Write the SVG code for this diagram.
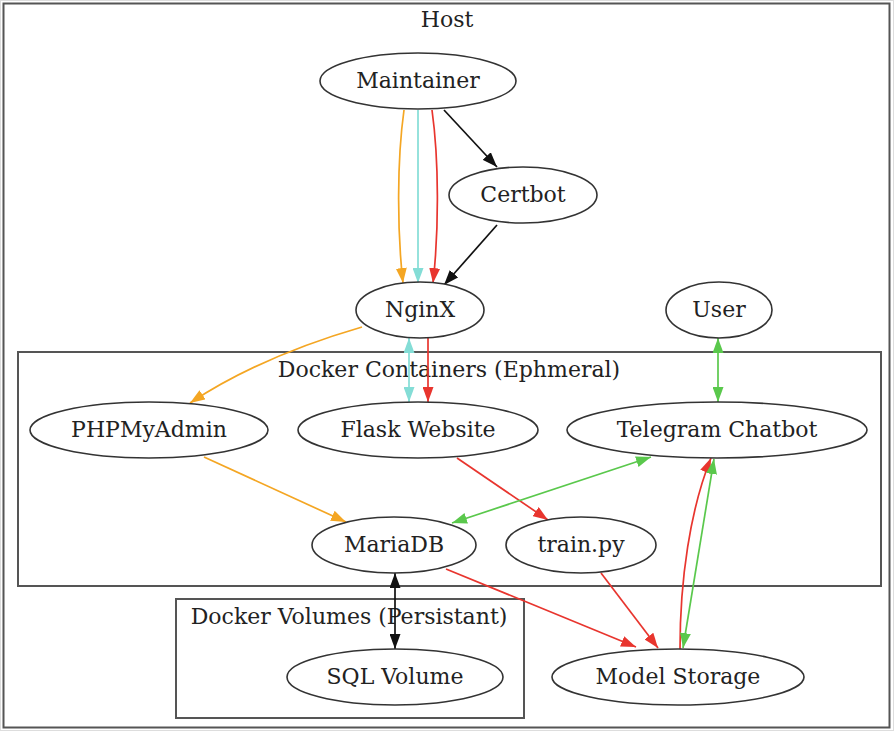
<svg xmlns="http://www.w3.org/2000/svg" width="894" height="731" viewBox="0 0 894 731">
<style>
text{font-family:"DejaVu Serif","Liberation Serif",serif;font-size:22px;fill:#222;text-anchor:middle}
.n{fill:#fff;stroke:#333;stroke-width:1.6}
.c{fill:none;stroke:#555;stroke-width:2}
.e{fill:none;stroke-width:1.7}
.k{stroke:#111}.o{stroke:#f4a623}.cy{stroke:#84ddd6}.r{stroke:#e8352e}.g{stroke:#5ac84c}
</style>
<defs>
<marker id="ak" viewBox="0 0 15 11" refX="15" refY="5.5" markerWidth="15" markerHeight="11" markerUnits="userSpaceOnUse" orient="auto-start-reverse"><path d="M0,0L15,5.5L0,11z" fill="#111"/></marker>
<marker id="ao" viewBox="0 0 15 11" refX="15" refY="5.5" markerWidth="15" markerHeight="11" markerUnits="userSpaceOnUse" orient="auto-start-reverse"><path d="M0,0L15,5.5L0,11z" fill="#f4a623"/></marker>
<marker id="ac" viewBox="0 0 15 11" refX="15" refY="5.5" markerWidth="15" markerHeight="11" markerUnits="userSpaceOnUse" orient="auto-start-reverse"><path d="M0,0L15,5.5L0,11z" fill="#84ddd6"/></marker>
<marker id="ar" viewBox="0 0 15 11" refX="15" refY="5.5" markerWidth="15" markerHeight="11" markerUnits="userSpaceOnUse" orient="auto-start-reverse"><path d="M0,0L15,5.5L0,11z" fill="#e8352e"/></marker>
<marker id="ag" viewBox="0 0 15 11" refX="15" refY="5.5" markerWidth="15" markerHeight="11" markerUnits="userSpaceOnUse" orient="auto-start-reverse"><path d="M0,0L15,5.5L0,11z" fill="#5ac84c"/></marker>
</defs>
<rect width="894" height="731" fill="#fff"/>
<rect x="0.5" y="0.5" width="893" height="730" fill="none" stroke="#ddd"/>
<g id="cluster_host">
<rect class="c" x="3.5" y="3.5" width="886" height="724"/>
<text x="447" y="27">Host</text>
</g>
<g id="cluster_containers">
<rect class="c" x="18" y="352" width="863" height="234"/>
<text x="449" y="377">Docker Containers (Ephmeral)</text>
</g>
<g id="cluster_volumes">
<rect class="c" x="176" y="599" width="348" height="119"/>
<text x="349" y="624">Docker Volumes (Persistant)</text>
</g>
<g id="connectors">
<path class="e o" d="M404,110 C397,160 397,230 403,283" marker-end="url(#ao)"/>
<path class="e cy" d="M418,110 L418,283" marker-end="url(#ac)"/>
<path class="e r" d="M432,110 C439,160 439,230 433,283" marker-end="url(#ar)"/>
<path class="e k" d="M444,110 L497,167" marker-end="url(#ak)"/>
<path class="e k" d="M497,225 L444,285" marker-end="url(#ak)"/>
<path class="e o" d="M362,327 C300,345 240,370 190,403" marker-end="url(#ao)"/>
<path class="e cy" d="M409,338 L409,402" marker-start="url(#ac)" marker-end="url(#ac)"/>
<path class="e r" d="M428,338 L428,402" marker-end="url(#ar)"/>
<path class="e g" d="M718,338 L718,402" marker-start="url(#ag)" marker-end="url(#ag)"/>
<path class="e o" d="M204,457 L346,522" marker-end="url(#ao)"/>
<path class="e r" d="M457,458 L548,520" marker-end="url(#ar)"/>
<path class="e g" d="M651,457 L452,523" marker-start="url(#ag)" marker-end="url(#ag)"/>
<path class="e k" d="M395,573 L395,649" marker-start="url(#ak)" marker-end="url(#ak)"/>
<path class="e r" d="M446,569 L636,647" marker-end="url(#ar)"/>
<path class="e r" d="M601,573 L658,648" marker-end="url(#ar)"/>
<path class="e r" d="M680,649 C680,580 690,510 711,458" marker-end="url(#ar)"/>
<path class="e g" d="M714,459 L683,648" marker-start="url(#ag)" marker-end="url(#ag)"/>
</g>
<g id="maintainer"><ellipse class="n" cx="418" cy="81" rx="98" ry="28"/><text x="418" y="88">Maintainer</text></g>
<g id="certbot"><ellipse class="n" cx="523" cy="195" rx="74" ry="28"/><text x="523" y="202">Certbot</text></g>
<g id="nginx"><ellipse class="n" cx="420" cy="310" rx="64" ry="28"/><text x="420" y="317">NginX</text></g>
<g id="user"><ellipse class="n" cx="719" cy="310" rx="53" ry="28"/><text x="719" y="317">User</text></g>
<g id="phpmyadmin"><ellipse class="n" cx="149" cy="430" rx="119" ry="28"/><text x="149" y="437">PHPMyAdmin</text></g>
<g id="flask"><ellipse class="n" cx="418" cy="430" rx="120" ry="28"/><text x="418" y="437">Flask Website</text></g>
<g id="telegram"><ellipse class="n" cx="717" cy="430" rx="150" ry="28"/><text x="717" y="437">Telegram Chatbot</text></g>
<g id="mariadb"><ellipse class="n" cx="394" cy="545" rx="82" ry="28"/><text x="394" y="552">MariaDB</text></g>
<g id="trainpy"><ellipse class="n" cx="581" cy="545" rx="75" ry="28"/><text x="581" y="552">train.py</text></g>
<g id="sqlvolume"><ellipse class="n" cx="395" cy="677" rx="108" ry="28"/><text x="395" y="684">SQL Volume</text></g>
<g id="modelstorage"><ellipse class="n" cx="678" cy="677" rx="126" ry="28"/><text x="678" y="684">Model Storage</text></g>
</svg>
